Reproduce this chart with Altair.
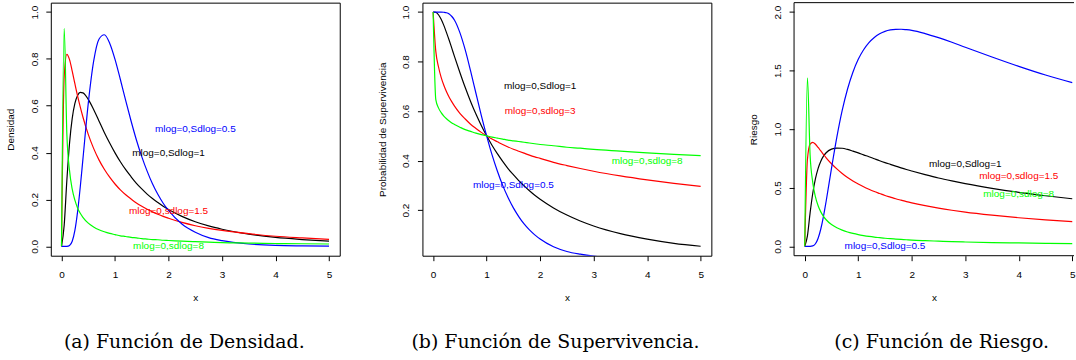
import altair as alt
import pandas as pd

# Common x grid (values of x where the curves are tabulated)
x_grid = [0, 0.05, 0.1, 0.15, 0.2, 0.25, 0.3, 0.35, 0.4, 0.5, 0.6, 0.7, 0.8, 0.9,
          1.0, 1.1, 1.2, 1.3, 1.4, 1.5, 1.6, 1.7, 1.8, 1.9, 2.0, 2.25, 2.5, 2.75,
          3.0, 3.5, 4.0, 4.5, 5.0]

# (a) density, lognormal with meanlog = 0
dens_sd05 = [0, 0, 0.0002, 0.004, 0.022, 0.068, 0.147, 0.252, 0.372, 0.610, 0.789,
             0.884, 0.903, 0.867, 0.798, 0.712, 0.622, 0.535, 0.454, 0.383, 0.321,
             0.267, 0.222, 0.184, 0.153, 0.095, 0.060, 0.037, 0.024, 0.010, 0.004,
             0.002, 0.001]
dens_sd1 = [0, 0.090, 0.282, 0.440, 0.546, 0.610, 0.644, 0.657, 0.655, 0.627, 0.584,
            0.535, 0.486, 0.441, 0.399, 0.361, 0.327, 0.297, 0.269, 0.245, 0.223,
            0.204, 0.187, 0.171, 0.157, 0.128, 0.105, 0.087, 0.073, 0.052, 0.038,
            0.029, 0.022]
dens_sd15 = [0, 0.724, 0.819, 0.797, 0.748, 0.694, 0.642, 0.595, 0.552, 0.478, 0.418,
             0.369, 0.329, 0.295, 0.266, 0.241, 0.220, 0.202, 0.185, 0.171, 0.158,
             0.147, 0.137, 0.128, 0.120, 0.102, 0.088, 0.077, 0.068, 0.054, 0.043,
             0.036, 0.030]
dens_sd8 = [0, 0.930, 0.478, 0.323, 0.244, 0.197, 0.164, 0.141, 0.124, 0.099, 0.083,
            0.071, 0.062, 0.055, 0.050, 0.045, 0.042, 0.038, 0.036, 0.033, 0.031,
            0.029, 0.028, 0.026, 0.025, 0.022, 0.020, 0.018, 0.016, 0.014, 0.012,
            0.011, 0.010]

# (b) survival
surv_sd05 = [1, 1, 1, 1.000, 0.999, 0.997, 0.992, 0.982, 0.967, 0.917, 0.847, 0.762,
             0.672, 0.583, 0.500, 0.424, 0.358, 0.300, 0.251, 0.209, 0.174, 0.144,
             0.120, 0.100, 0.083, 0.052, 0.033, 0.022, 0.014, 0.006, 0.003, 0.001,
             0.001]
surv_sd1 = [1, 0.999, 0.989, 0.971, 0.946, 0.917, 0.886, 0.853, 0.820, 0.756, 0.695,
            0.639, 0.588, 0.542, 0.500, 0.462, 0.428, 0.397, 0.368, 0.343, 0.319,
            0.298, 0.278, 0.260, 0.244, 0.209, 0.180, 0.156, 0.136, 0.105, 0.083,
            0.066, 0.054]
surv_sd3 = [1, 0.841, 0.779, 0.736, 0.704, 0.678, 0.656, 0.637, 0.620, 0.591, 0.568,
            0.547, 0.530, 0.514, 0.500, 0.487, 0.476, 0.465, 0.455, 0.446, 0.438,
            0.430, 0.422, 0.415, 0.409, 0.393, 0.380, 0.368, 0.357, 0.338, 0.322,
            0.308, 0.296]
surv_sd8 = [1, 0.646, 0.613, 0.594, 0.580, 0.569, 0.560, 0.552, 0.546, 0.535, 0.525,
            0.518, 0.511, 0.505, 0.500, 0.495, 0.491, 0.487, 0.483, 0.480, 0.477,
            0.474, 0.471, 0.468, 0.465, 0.460, 0.454, 0.450, 0.445, 0.438, 0.431,
            0.425, 0.420]

# (c) hazard
haz_sd05 = [0, 0, 0.0002, 0.004, 0.022, 0.069, 0.148, 0.256, 0.385, 0.666, 0.932,
            1.160, 1.343, 1.486, 1.596, 1.678, 1.739, 1.783, 1.814, 1.835, 1.847,
            1.852, 1.853, 1.849, 1.843, 1.816, 1.781, 1.742, 1.699, 1.616, 1.536,
            1.462, 1.397]
haz_sd1 = [0, 0.090, 0.285, 0.453, 0.577, 0.666, 0.727, 0.770, 0.799, 0.830, 0.839,
           0.837, 0.827, 0.813, 0.798, 0.781, 0.765, 0.748, 0.731, 0.715, 0.700,
           0.685, 0.670, 0.656, 0.643, 0.612, 0.583, 0.558, 0.535, 0.495, 0.461,
           0.432, 0.406]
haz_sd15 = [0, 0.741, 0.873, 0.888, 0.871, 0.844, 0.814, 0.785, 0.756, 0.705, 0.661,
            0.622, 0.588, 0.558, 0.532, 0.508, 0.487, 0.468, 0.451, 0.434, 0.420,
            0.406, 0.394, 0.382, 0.371, 0.347, 0.326, 0.308, 0.292, 0.266, 0.244,
            0.226, 0.211]
haz_sd8 = [0, 1.439, 0.780, 0.544, 0.422, 0.346, 0.294, 0.256, 0.227, 0.186, 0.158,
           0.138, 0.122, 0.110, 0.100, 0.092, 0.085, 0.079, 0.074, 0.069, 0.065,
           0.062, 0.059, 0.056, 0.053, 0.048, 0.044, 0.040, 0.037, 0.032, 0.029,
           0.026, 0.023]

# Curve labels written inside each panel
dens_note_x = [2.5, 2.0, 2.0, 2.0]
dens_note_y = [0.5, 0.4, 0.15, 0.0]
dens_note_text = ["mlog=0,Sdlog=0.5", "mlog=0,Sdlog=1", "mlog=0,sdlog=1.5", "mlog=0,sdlog=8"]
dens_note_color = ["#0000FF", "#000000", "#FF0000", "#00FF00"]

surv_note_x = [2.0, 2.0, 4.0, 1.5]
surv_note_y = [0.7, 0.6, 0.4, 0.3]
surv_note_text = ["mlog=0,Sdlog=1", "mlog=0,sdlog=3", "mlog=0,sdlog=8", "mlog=0,Sdlog=0.5"]
surv_note_color = ["#000000", "#FF0000", "#00FF00", "#0000FF"]

haz_note_x = [3.0, 4.0, 4.0, 1.5]
haz_note_y = [0.7, 0.6, 0.45, 0.0]
haz_note_text = ["mlog=0,Sdlog=1", "mlog=0,sdlog=1.5", "mlog=0,sdlog=8", "mlog=0,Sdlog=0.5"]
haz_note_color = ["#000000", "#FF0000", "#00FF00", "#0000FF"]

x_ticks = [0, 1, 2, 3, 4, 5]

BLACK, RED, BLUE, GREEN = "#000000", "#FF0000", "#0000FF", "#00FF00"
SANS = "Liberation Sans"
SERIF = "DejaVu Serif"
PLOT_W = 290
LAST_W = 281
PLOT_H = 254


def curves_frame(series):
    rows = []
    for name, values in series:
        for xv, yv in zip(x_grid, values):
            rows.append({"x": xv, "y": yv, "serie": name})
    return pd.DataFrame(rows)


def notes_frame(xs, ys, texts, colors):
    return pd.DataFrame({"x": xs, "y": ys, "label": texts, "color": colors})


def panel(series, colors, notes, y_domain, y_ticks, y_title, caption,
          width, x_max, caption_dx, framed=True):
    x_scale = alt.Scale(domain=[-0.2, x_max], nice=False, zero=False)
    y_scale = alt.Scale(domain=y_domain, nice=False, zero=False)
    x_axis = alt.Axis(values=x_ticks, format="d", title="x", domain=False, grid=False,
                      tickSize=5, tickColor=BLACK, tickWidth=1,
                      labelFont=SANS, labelFontSize=10, labelColor=BLACK,
                      labelPadding=16.7, labelBaseline="alphabetic",
                      titleFont=SANS, titleFontSize=10, titleFontWeight="normal",
                      titleColor=BLACK, titleY=44.5, titleBaseline="alphabetic")
    y_axis = alt.Axis(values=y_ticks, format=".1f", title=y_title, domain=False,
                      grid=False, tickSize=5, tickColor=BLACK, tickWidth=1,
                      labelFont=SANS, labelFontSize=10, labelColor=BLACK,
                      labelAngle=270, labelAlign="center", labelBaseline="alphabetic",
                      labelPadding=8.8,
                      titleFont=SANS, titleFontSize=10, titleFontWeight="normal",
                      titleColor=BLACK, titleAngle=270, titleAlign="center",
                      titleBaseline="alphabetic", titleX=-37.2, titleY=PLOT_H / 2)
    enc_x = alt.X("x:Q", scale=x_scale, axis=x_axis)
    enc_y = alt.Y("y:Q", scale=y_scale, axis=y_axis)

    df = curves_frame(series)
    base = alt.Chart(df).encode(x=enc_x, y=enc_y)
    layers = []
    for (name, _), col in zip(series, colors):
        layers.append(
            base.transform_filter(alt.datum.serie == name)
            .mark_line(color=col, strokeWidth=1.2, clip=True, interpolate="monotone")
        )
    text_layer = alt.Chart(notes).mark_text(
        font=SANS, fontSize=10, align="center", baseline="middle"
    ).encode(x=enc_x, y=enc_y, text="label:N", color=alt.Color("color:N", scale=None))
    layers.append(text_layer)

    if not framed:
        one = pd.DataFrame({"k": [0]})
        layers.append(alt.Chart(one).mark_rule(color=BLACK, strokeWidth=1).encode(
            x=alt.value(0), x2=alt.value(width), y=alt.value(0)))
        layers.append(alt.Chart(one).mark_rule(color=BLACK, strokeWidth=1).encode(
            x=alt.value(0), x2=alt.value(width), y=alt.value(PLOT_H)))
        layers.append(alt.Chart(one).mark_rule(color=BLACK, strokeWidth=1).encode(
            x=alt.value(0), y=alt.value(0), y2=alt.value(PLOT_H)))

    title = alt.TitleParams(text=caption, orient="bottom", anchor="middle", frame="group",
                            font=SERIF, fontSize=19, fontWeight="normal", color=BLACK,
                            baseline="alphabetic", offset=46, dx=caption_dx)
    props = dict(width=width, height=PLOT_H, title=title)
    if framed:
        props["view"] = alt.ViewBackground(stroke=BLACK, strokeWidth=1, fill=None)
    return alt.layer(*layers).properties(**props)


p_dens = panel(
    [("sd1", dens_sd1), ("sd15", dens_sd15), ("sd05", dens_sd05), ("sd8", dens_sd8)],
    [BLACK, RED, BLUE, GREEN],
    notes_frame(dens_note_x, dens_note_y, dens_note_text, dens_note_color),
    [-0.04, 1.04], [0, 0.2, 0.4, 0.6, 0.8, 1.0], "Densidad",
    "(a) Función de Densidad.", PLOT_W, 5.2, -11,
)
p_surv = panel(
    [("sd1", surv_sd1), ("sd3", surv_sd3), ("sd05", surv_sd05), ("sd8", surv_sd8)],
    [BLACK, RED, BLUE, GREEN],
    notes_frame(surv_note_x, surv_note_y, surv_note_text, surv_note_color),
    [0.0159, 1.0379], [0.2, 0.4, 0.6, 0.8, 1.0], "Probabilidad de Supervivencia",
    "(b) Función de Supervivencia.", PLOT_W, 5.2, -11.5,
)
p_haz = panel(
    [("sd1", haz_sd1), ("sd15", haz_sd15), ("sd05", haz_sd05), ("sd8", haz_sd8)],
    [BLACK, RED, BLUE, GREEN],
    notes_frame(haz_note_x, haz_note_y, haz_note_text, haz_note_color),
    [-0.08, 2.08], [0, 0.5, 1.0, 1.5, 2.0], "Riesgo",
    "(c) Función de Riesgo.", LAST_W, -0.2 + LAST_W / 53.7, 7.7, framed=False,
)

chart = (
    alt.hconcat(p_dens, p_surv, p_haz, spacing=36)
    .properties(padding={"left": 5, "top": 1, "right": 0, "bottom": 0},
                background="white")
    .configure_view(stroke=None)
)

chart.save("out.html", embed_options={"renderer": "svg", "actions": False})
